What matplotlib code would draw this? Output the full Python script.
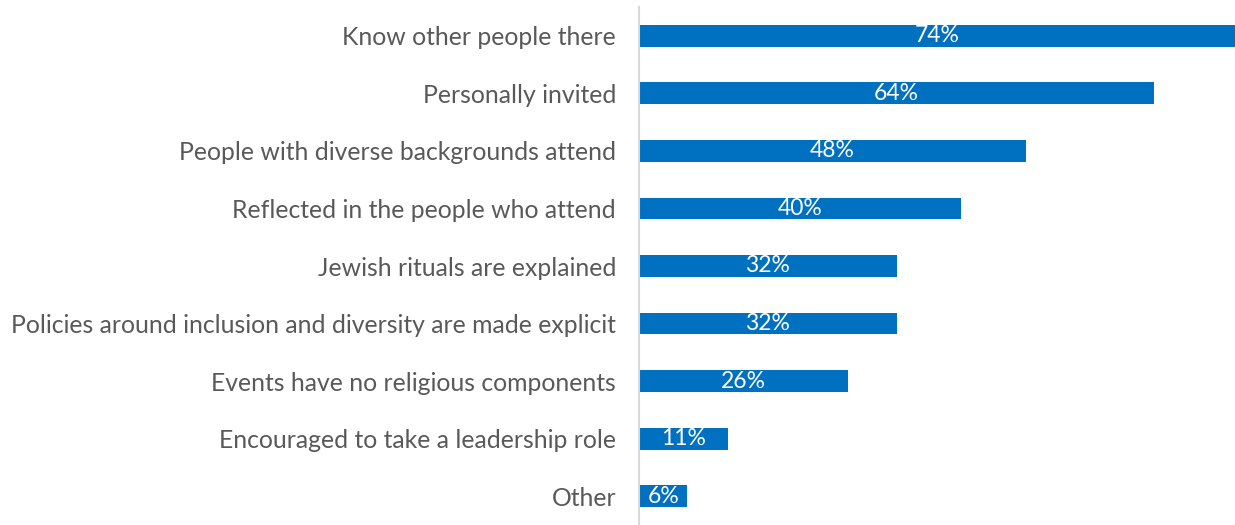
import matplotlib.pyplot as plt

categories = [
    "Know other people there",
    "Personally invited",
    "People with diverse backgrounds attend",
    "Reflected in the people who attend",
    "Jewish rituals are explained",
    "Policies around inclusion and diversity are made explicit",
    "Events have no religious components",
    "Encouraged to take a leadership role",
    "Other",
]
values = [74, 64, 48, 40, 32, 32, 26, 11, 6]

plt.rcParams['font.family'] = ['Lato', 'DejaVu Sans']

fig = plt.figure(figsize=(12.35, 5.25), dpi=100)
ax = fig.add_axes([639 / 1235, 0, 596 / 1235, 518 / 525])

y = list(range(len(categories)))
ax.barh(y, values, height=0.38, color='#0070C0')
for yi, v in zip(y, values):
    ax.text(v / 2, yi, f"{v}%", ha='center', va='center', color='white', fontsize=16.5)

ax.set_ylim(len(categories) - 0.5, -0.5)
ax.set_xlim(0, 74)
ax.set_yticks(y)
ax.set_yticklabels(categories, fontsize=17.8, color='#595959')
ax.tick_params(axis='y', length=0, pad=16.5)
ax.set_xticks([])
for s in ['top', 'right', 'bottom']:
    ax.spines[s].set_visible(False)
ax.spines['left'].set_color('#d9d9d9')
ax.spines['left'].set_linewidth(1.5)

fig.savefig('out.png', dpi=100)
